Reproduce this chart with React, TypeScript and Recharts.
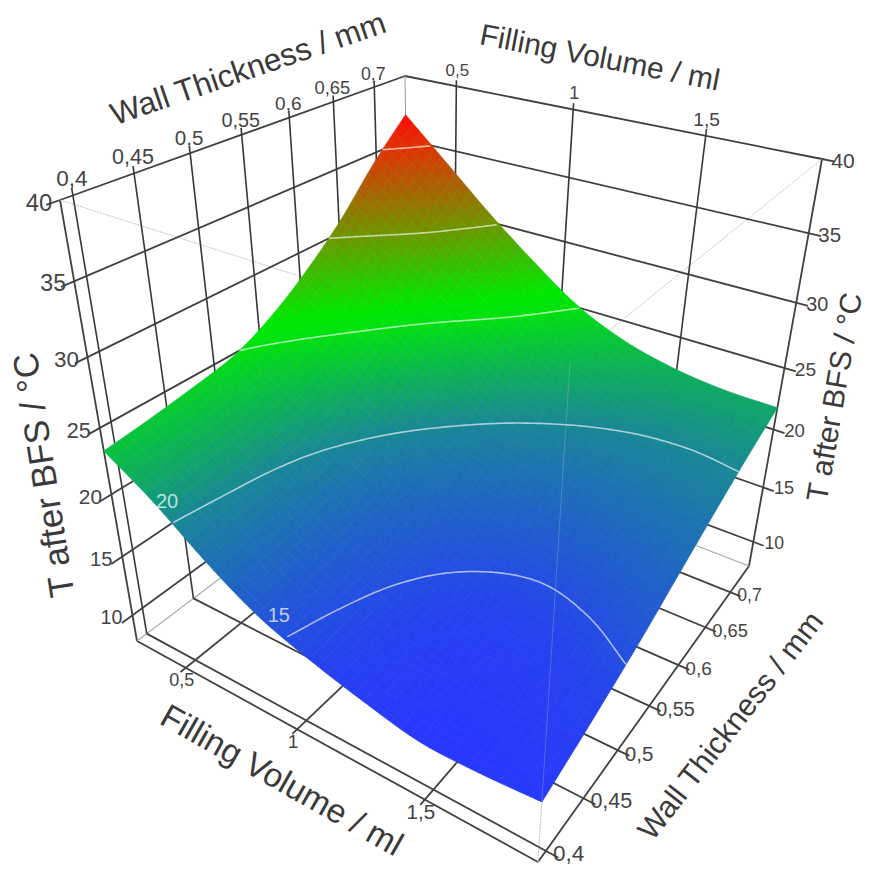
import React from "react";
import { ScatterChart, Scatter, XAxis, YAxis } from "recharts";

// ---- data ----
const fillingVolumeTicks = [0.5, 1, 1.5];
const fillingVolumeLabels = ["0,5", "1", "1,5"];
const wallThicknessTicks = [0.4, 0.45, 0.5, 0.55, 0.6, 0.65, 0.7];
const wallThicknessLabels = ["0,4", "0,45", "0,5", "0,55", "0,6", "0,65", "0,7"];
const temperatureTicks = [10, 15, 20, 25, 30, 35, 40];
const contourLevels = [15, 20, 25, 30, 35];
const contourLabels = [
  { level: 20, text: "20", u: 0.165, v: 0.0 },
  { level: 15, text: "15", u: 0.43, v: 0.0 },
];
const fillingRange = [0.26, 1.89];
const thicknessRange = [0.39, 0.74];
const temperatureRange = [7.7, 40];

// T after BFS: one row per wall thickness step (thin to thick), one column per filling volume step
const rowT0 = [23.3, 21, 18.2, 15.85, 14.35, 13.2, 12.3, 12.3, 12.6];
const rowT1 = [23.7, 21.35, 18.64, 16.25, 14.7, 13.6, 12.85, 13.0, 13.5];
const rowT2 = [24.2, 21.8, 19.09, 16.75, 15.2, 14.1, 13.5, 13.8, 14.5];
const rowT3 = [24.85, 22.5, 19.95, 17.6, 16.05, 15.0, 14.5, 14.85, 15.6];
const rowT4 = [26.3, 23.9, 21.36, 19.07, 17.4, 16.35, 15.9, 16.2, 16.9];
const rowT5 = [28.4, 25.88, 23.26, 20.94, 19.13, 18.01, 17.46, 17.73, 18.2];
const rowT6 = [31, 28.3, 25.53, 23.14, 21.13, 19.86, 19.22, 19.17, 19.5];
const rowT7 = [34.2, 31.23, 28.23, 25.56, 23.25, 21.75, 20.9, 20.61, 20.7];
const rowT8 = [37, 33.8, 30.6, 27.7, 25.1, 23.4, 22.4, 21.9, 21.8];
const surface = [rowT0, rowT1, rowT2, rowT3, rowT4, rowT5, rowT6, rowT7, rowT8];

// ---- projection of the box onto the plot plane ----
const FONT = "'Liberation Sans', Arial, sans-serif";
const boxCorners = [
  // [u, v, w, screenX, screenY]
  [0, 0, 0, 137, 641], [1, 0, 0, 538, 862], [0, 1, 0, 410, 435], [1, 1, 0, 749, 566],
  [0, 0, 1, 60, 200], [1, 0, 1, 570, 362], [0, 1, 1, 405, 76], [1, 1, 1, 822, 159],
];
const depth = (u: number, v: number, w: number) => 1 - 0.2 * u + 0.26 * v - 0.19 * w;
function project(u: number, v: number, w: number) {
  let sx = 0, sy = 0, s = 0;
  for (const [cu, cv, cw, px, py] of boxCorners) {
    const b = (cu ? u : 1 - u) * (cv ? v : 1 - v) * (cw ? w : 1 - w) * depth(cu, cv, cw);
    sx += b * px; sy += b * py; s += b;
  }
  return { x: sx / s, y: sy / s };
}
const uOf = (f: number) => (f - fillingRange[0]) / (fillingRange[1] - fillingRange[0]);
const vOf = (t: number) => (t - thicknessRange[0]) / (thicknessRange[1] - thicknessRange[0]);
const wOf = (T: number) => (T - temperatureRange[0]) / (temperatureRange[1] - temperatureRange[0]);

// ---- smooth read of the table ----
const cr = (a: number, b: number, c: number, d: number, t: number) =>
  0.5 * (2 * b + (c - a) * t + (2 * a - 5 * b + 4 * c - d) * t * t + (3 * b - a - 3 * c + d) * t * t * t);
const at = (arr: number[], i: number) => {
  const n = arr.length;
  if (i < 0) return 2 * arr[0] - arr[1];
  if (i >= n) return 2 * arr[n - 1] - arr[n - 2];
  return arr[i];
};
const along = (arr: number[], p: number) => {
  const s = Math.min(p * (arr.length - 1), arr.length - 1 - 1e-9);
  const i = Math.floor(s);
  return cr(at(arr, i - 1), at(arr, i), at(arr, i + 1), at(arr, i + 2), s - i);
};
const sampleT = (u: number, v: number) => along(surface.map((r) => along(r, u)), v);

const colorStops: number[][] = [
  [12, 40, 55, 255], [14, 38, 65, 240], [15, 35, 78, 225], [20, 25, 135, 150], [25, 0, 225, 15],
  [26, 0, 232, 0], [30, 110, 150, 0], [35, 225, 50, 5], [37, 252, 8, 8],
];
function colorOf(T: number) {
  if (T <= colorStops[0][0]) return `rgb(${colorStops[0].slice(1).join(",")})`;
  for (let i = 1; i < colorStops.length; i++) {
    const a = colorStops[i - 1], b = colorStops[i];
    if (T <= b[0]) {
      const k = (T - a[0]) / (b[0] - a[0]);
      return `rgb(${[1, 2, 3].map((c) => Math.round(a[c] + (b[c] - a[c]) * k)).join(",")})`;
    }
  }
  return `rgb(${colorStops[colorStops.length - 1].slice(1).join(",")})`;
}

// ---- derived mark tables ----
const SUB = 6;
const CELLS = surface.length - 1;
type Poly = { pts: string; color: string };
const cellPoints: any[] = [];
for (let j = CELLS - 1; j >= 0; j--) {
  for (let i = 0; i < CELLS; i++) {
    const polys: Poly[] = [];
    for (let b = SUB - 1; b >= 0; b--) {
      for (let a = 0; a < SUB; a++) {
        const u0 = (i + a / SUB) / CELLS, u1 = (i + (a + 1) / SUB) / CELLS;
        const v0 = (j + b / SUB) / CELLS, v1 = (j + (b + 1) / SUB) / CELLS;
        const pts = [[u0, v0], [u1, v0], [u1, v1], [u0, v1]]
          .map(([u, v]) => {
            const p = project(u, v, wOf(sampleT(u, v)));
            return `${p.x.toFixed(2)},${p.y.toFixed(2)}`;
          })
          .join(" ");
        polys.push({ pts, color: colorOf(sampleT((u0 + u1) / 2, (v0 + v1) / 2)) });
      }
    }
    const c = project((i + 0.5) / CELLS, (j + 0.5) / CELLS, 0.5);
    cellPoints.push({ x: c.x, y: c.y, polys });
  }
}

type Seg = { key: string; pts: { x: number; y: number }[]; stroke: string; width: number; dash?: string };
const seg = (key: string, a: number[], b: number[], stroke = "#404040", width = 1.8, dash?: string): Seg => ({
  key, pts: [project(a[0], a[1], a[2]), project(b[0], b[1], b[2])], stroke, width, dash,
});
const backSegs: Seg[] = [];
const frontSegs: Seg[] = [];
// frame
backSegs.push(seg("leftV", [0, 0, 0], [0, 0, 1]));
backSegs.push(seg("rightV", [1, 1, 0], [1, 1, 1]));
backSegs.push(seg("topT", [0, 0, 1], [0, 1, 1]));
backSegs.push(seg("topF", [0, 1, 1], [1, 1, 1]));
backSegs.push(seg("botF", [0, 0, 0], [1, 0, 0]));
backSegs.push(seg("botT", [1, 0, 0], [1, 1, 0]));
backSegs.push(seg("backV", [0, 1, 0], [0, 1, 1], "#999", 1));
backSegs.push(seg("floorA", [0, 0, 0], [0, 1, 0], "#aaa", 1.2));
backSegs.push(seg("floorB", [0, 1, 0], [1, 1, 0], "#aaa", 1.2));
backSegs.push(seg("dotA", [0, 0, 1], [1, 0, 1], "#c4c4c4", 1, "2 1"));
backSegs.push(seg("dotB", [1, 0, 1], [1, 1, 1], "#c4c4c4", 1, "2 1"));
backSegs.push(seg("dotC", [1, 0, 0], [1, 0, 1], "#c4c4c4", 1, "2 1"));
frontSegs.push(seg("dotFront", [1, 0, 0], [1, 0, 1], "rgba(205,205,205,0.28)", 1));
// grids
temperatureTicks.forEach((T) => {
  const w = wOf(T);
  if (T < 40) {
    backSegs.push(seg(`tl${T}`, [0, -0.03, w], [0, 1, w]));
    backSegs.push(seg(`tr${T}`, [0, 1, w], [1.025, 1, w]));
  } else {
    backSegs.push(seg(`tl${T}`, [0, -0.03, w], [0, 0, w]));
    backSegs.push(seg(`tr${T}`, [1, 1, w], [1.025, 1, w]));
  }
});
wallThicknessTicks.forEach((t) => {
  const v = vOf(t);
  backSegs.push(seg(`wv${t}`, [0, v, 0], [0, v, 1.014], "#383838", 1.6));
  backSegs.push(seg(`wf${t}`, [0, v, 0], [1.025, v, 0]));
});
fillingVolumeTicks.forEach((f) => {
  const u = uOf(f);
  backSegs.push(seg(`fv${f}`, [u, 1, 0], [u, 1, 1.014], "#383838", 1.6));
  backSegs.push(seg(`ff${f}`, [u, -0.015, 0], [u, 1, 0]));
});

const contours = contourLevels.map((level) => {
  const pts: { x: number; y: number }[] = [];
  for (let n = 0; n <= 240; n++) {
    const u = n / 240;
    if (sampleT(u, 0) > level || sampleT(u, 1) < level) continue;
    let lo = 0, hi = 1;
    for (let k = 0; k < 22; k++) {
      const m = (lo + hi) / 2;
      if (sampleT(u, m) < level) lo = m; else hi = m;
    }
    pts.push(project(u, lo, wOf(level)));
  }
  return { level, pts };
});

type Txt = { x: number; y: number; text: string; size: number; rot: number; anchor: string; fill: string };
const labels: Txt[] = [];
const put = (p: { x: number; y: number }, dx: number, dy: number, text: string, size: number, anchor = "middle", rot = 0, fill = "#444") =>
  labels.push({ x: p.x + dx, y: p.y + dy, text, size, rot, anchor, fill });

temperatureTicks.forEach((T) => {
  const w = wOf(T);
  put(project(0, 0, w), -21, 2, String(T), 19.4 / depth(0, 0, w));
  put(project(1, 1, w), 21, 1, String(T), 18.4 / depth(1, 1, w));
});
wallThicknessTicks.forEach((t, i) => {
  const v = vOf(t);
  put(project(0, v, 1), -1, -14 / depth(0, v, 1), wallThicknessLabels[i], 18.4 / depth(0, v, 1));
  put(project(1, v, 0), 7, 3, wallThicknessLabels[i], 18.2 / depth(1, v, 0), "start");
});
fillingVolumeTicks.forEach((f, i) => {
  const u = uOf(f);
  put(project(u, 1, 1), 1, -16, fillingVolumeLabels[i], 18 / depth(u, 1, 1) * 0.98);
  put(project(u, 0, 0), -4, 12, fillingVolumeLabels[i], 17.5 / depth(u, 0, 0));
});
contourLabels.forEach((c) => {
  const p = project(c.u, c.v, wOf(c.level));
  put(p, c.level === 20 ? -3 : -1, c.level === 20 ? -21 : -22, c.text, 20, "middle", 0, "rgba(255,255,255,0.72)");
});

const axisTitles = [
  { x: 248, y: 68, text: "Wall Thickness / mm", size: 31.5, rot: -19 },
  { x: 600, y: 57, text: "Filling Volume / ml", size: 30, rot: 11 },
  { x: 282, y: 780, text: "Filling Volume / ml", size: 33.5, rot: 29.5 },
  { x: 730, y: 725, text: "Wall Thickness / mm", size: 30.5, rot: -52 },
  { x: 43, y: 475, text: "T after BFS / °C", size: 35, rot: -98.9 },
  { x: 834, y: 397, text: "T after BFS / °C", size: 30, rot: -80.3 },
];
axisTitles.forEach((t) => labels.push({ x: t.x, y: t.y, text: t.text, size: t.size, rot: t.rot, anchor: "middle", fill: "#3a3a3a" }));

// ---- custom shapes ----
const noShape = () => <g />;
const CellShape = (props: any) => {
  const { cx, cy, payload } = props;
  return (
    <g transform={`translate(${cx - payload.x},${cy - payload.y})`}>
      {payload.polys.map((q: Poly, i: number) => (
        <polygon key={i} points={q.pts} fill={q.color} stroke={q.color} strokeWidth={0.7} />
      ))}
    </g>
  );
};
const TextShape = (props: any) => {
  const { cx, cy, payload } = props;
  return (
    <text
      x={cx}
      y={cy}
      textAnchor={payload.anchor}
      dominantBaseline="central"
      fontFamily={FONT}
      fontSize={payload.size}
      fill={payload.fill}
      transform={payload.rot ? `rotate(${payload.rot} ${cx} ${cy})` : undefined}
    >
      {payload.text}
    </text>
  );
};

const drawSeg = (s: Seg) => (
  <Scatter
    key={s.key}
    data={s.pts}
    line={{ stroke: s.stroke, strokeWidth: s.width, strokeDasharray: s.dash }}
    shape={noShape}
    isAnimationActive={false}
  />
);

export default function App() {
  return (
    <div style={{ position: "absolute", left: 0, top: 0, width: 869, height: 870, background: "#fff" }}>
      <ScatterChart width={869} height={870} margin={{ top: 0, right: 0, bottom: 0, left: 0 }}>
        <XAxis dataKey="x" type="number" domain={[0, 869]} hide allowDataOverflow />
        <YAxis dataKey="y" type="number" domain={[0, 870]} reversed hide allowDataOverflow />
        {backSegs.map(drawSeg)}
        <Scatter data={cellPoints} shape={CellShape} isAnimationActive={false} />
        {contours.map((c) => (
          <Scatter
            key={`c${c.level}`}
            data={c.pts}
            line={{ stroke: "rgba(255,255,255,0.62)", strokeWidth: 1.6 }}
            shape={noShape}
            isAnimationActive={false}
          />
        ))}
        {frontSegs.map(drawSeg)}
        <Scatter data={labels} shape={TextShape} isAnimationActive={false} />
      </ScatterChart>
    </div>
  );
}
